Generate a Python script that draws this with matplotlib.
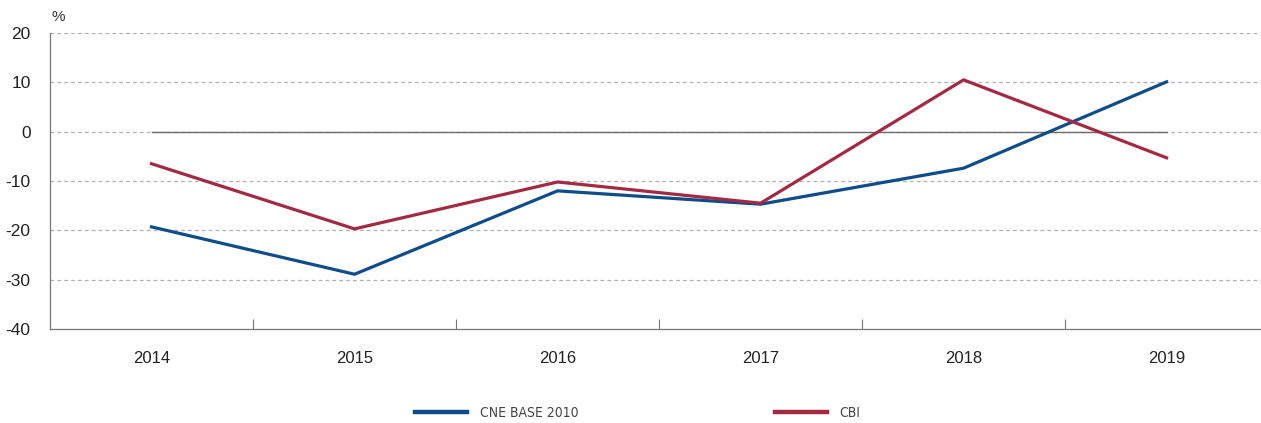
import numpy as np
import matplotlib.pyplot as plt
from matplotlib.lines import Line2D

years = ['2014', '2015', '2016', '2017', '2018', '2019']
cne_base_2010 = [-19.3, -28.9, -12.0, -14.7, -7.4, 10.1]
cbi = [-6.5, -19.7, -10.2, -14.5, 10.5, -5.3]
y_ticks = [20, 10, 0, -10, -20, -30, -40]
series_names = ['CNE BASE 2010', 'CBI']

blue = '#0f4c8a'
red = '#a32a42'

plt.rcParams['font.family'] = ['Liberation Sans', 'DejaVu Sans']

fig = plt.figure(figsize=(12.61, 4.23), dpi=100)
ax = fig.add_axes([50 / 1261, 1 - 329 / 423, 1 - 50 / 1261, 296 / 423])

x = np.arange(len(years))

#dashed grid lines, the zero line is solid between first and last year
for yv in y_ticks:
    if yv == -40:
        continue
    ax.axhline(yv, color='#b0b0b0', lw=0.9, ls=(0, (3, 2.5)), zorder=1)
ax.plot([x[0], x[-1]], [0, 0], color='#6b6b6b', lw=1.0, zorder=2)

ax.plot(x, cne_base_2010, color=blue, lw=2.3, zorder=3, solid_joinstyle='miter')
ax.plot(x, cbi, color=red, lw=2.3, zorder=4, solid_joinstyle='miter')

ax.set_xlim(-0.5, 5.465)
ax.set_ylim(-40, 20)
ax.set_yticks(y_ticks)
ax.set_yticklabels([str(v) for v in y_ticks], fontsize=12.5, color='#222222')
ax.tick_params(axis='y', length=0, pad=14)

ax.set_xticks(x)
ax.set_xticklabels(years, fontsize=12, color='#222222')
ax.tick_params(axis='x', length=0, pad=16)
ax.set_xticks(x[:-1] + 0.5, minor=True)
ax.tick_params(axis='x', which='minor', direction='in', length=7, width=0.8, color='#777777')

for s in ['top', 'right']:
    ax.spines[s].set_visible(False)
ax.spines['left'].set_color('#777777')
ax.spines['bottom'].set_color('#777777')
ax.spines['left'].set_linewidth(0.9)
ax.spines['bottom'].set_linewidth(0.9)

fig.text(52 / 1261, 1 - 17 / 423, '%', fontsize=11, color='#333333', va='center', ha='left')

#two legend entries placed separately like in the original
leg_x = [415, 775]
for name, col, lx in zip(series_names, [blue, red], leg_x):
    leg = fig.legend([Line2D([], [], color=col, lw=3.2)], [name], frameon=False,
                     loc='center left', bbox_to_anchor=(lx / 1261, 1 - 413 / 423),
                     borderpad=0, borderaxespad=0,
                     prop={'family': 'DejaVu Sans', 'stretch': 'condensed', 'size': 10},
                     handlelength=3.75, handletextpad=0.9)
    for t in leg.get_texts():
        t.set_color('#444444')

fig.savefig('out.png', dpi=100)
